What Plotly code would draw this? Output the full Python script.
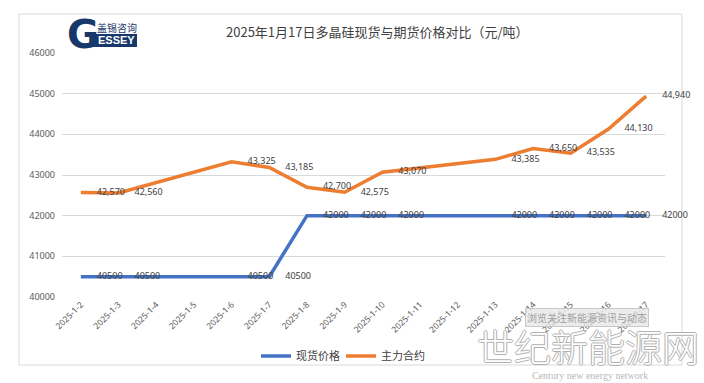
import plotly.graph_objects as go

# ---------------- data ----------------
dates = ["2025-1-2", "2025-1-3", "2025-1-4", "2025-1-5", "2025-1-6", "2025-1-7",
         "2025-1-8", "2025-1-9", "2025-1-10", "2025-1-11", "2025-1-12", "2025-1-13",
         "2025-1-14", "2025-1-15", "2025-1-16", "2025-1-17"]
spot_price = [40500, 40500, None, None, 40500, 40500,
              42000, 42000, 42000, None, None, 42000,
              42000, 42000, 42000, 42000]
futures_price = [42570, 42560, None, None, 43325, 43185,
                 42700, 42575, 43070, None, None, 43385,
                 43650, 43535, 44130, 44940]
y_ticks = [40000, 41000, 42000, 43000, 44000, 45000, 46000]

title_text = "2025年1月17日多晶硅现货与期货价格对比（元/吨）"
series_names = ["现货价格", "主力合约"]

# ---------------- layout helpers ----------------
W, H = 704, 383
L, R, T, B = 62, 665, 53, 297


def px(x):
    return (x - L) / (R - L)


def py(y):
    return (B - y) / (B - T)


FONT = "Noto Sans, Noto Sans CJK SC, sans-serif"
CJK = "Noto Sans CJK SC, sans-serif"
BLUE = "#4472C4"
ORANGE = "#ED7D31"
NAVY = "#17386A"

fig = go.Figure()
fig.add_trace(go.Scatter(
    x=dates, y=spot_price, name=series_names[0],
    mode="lines+markers+text", connectgaps=True, cliponaxis=False,
    line=dict(color=BLUE, width=3.5),
    marker=dict(size=24, color="rgba(0,0,0,0)"),
    texttemplate="%{y:d}", textposition="middle right",
    textfont=dict(size=9, color="#404040", family=FONT),
    hoverinfo="skip",
))
fig.add_trace(go.Scatter(
    x=dates, y=futures_price, name=series_names[1],
    mode="lines+markers+text", connectgaps=True, cliponaxis=False,
    line=dict(color=ORANGE, width=3.5),
    marker=dict(size=24, color="rgba(0,0,0,0)"),
    texttemplate="%{y:,d}", textposition="middle right",
    textfont=dict(size=9, color="#404040", family=FONT),
    hoverinfo="skip",
))

shapes = [
    # chart border
    dict(type="rect", xref="paper", yref="paper",
         x0=px(19), x1=px(682), y0=py(365), y1=py(14),
         line=dict(color="#D9D9D9", width=1), fillcolor="rgba(0,0,0,0)", layer="below"),
    # logo ESSEY box
    dict(type="rect", xref="paper", yref="paper",
         x0=px(93), x1=px(137), y0=py(47), y1=py(34),
         line=dict(width=0), fillcolor=NAVY),
]

annotations = [
    dict(text=title_text, xref="paper", yref="paper", x=px(378), y=py(31),
         showarrow=False, xanchor="center", yanchor="middle",
         font=dict(size=13, color="#404040", family=CJK)),
    # logo
    dict(text="<b>G</b>", xref="paper", yref="paper", x=px(83), y=py(34),
         showarrow=False, xanchor="center", yanchor="middle",
         font=dict(size=39, color=NAVY, family="DejaVu Sans")),
    dict(text="<b>ESSEY</b>", xref="paper", yref="paper", x=px(116), y=py(40.5),
         showarrow=False, xanchor="center", yanchor="middle",
         font=dict(size=11, color="white", family="Liberation Sans")),
    dict(text="盖锡咨询", xref="paper", yref="paper", x=px(117), y=py(27),
         showarrow=False, xanchor="center", yanchor="middle",
         font=dict(size=10, color=NAVY, family=CJK)),
    # watermark
    dict(text="浏览关注新能源资讯与动态", xref="paper", yref="paper", x=px(587), y=py(317),
         showarrow=False, xanchor="center", yanchor="middle",
         bgcolor="rgba(230,230,230,0.75)", bordercolor="#C8C8C8", borderwidth=1, borderpad=1,
         font=dict(size=10, color="#A0A0A0", family=CJK)),
    dict(text="世纪新能源网", xref="paper", yref="paper", x=px(588), y=py(346),
         showarrow=False, xanchor="center", yanchor="middle",
         font=dict(size=37, color="white", family=CJK, weight=300,
                   shadow="1px 0 0 #B0B0B0, -1px 0 0 #B0B0B0, 0 1px 0 #B0B0B0, 0 -1px 0 #B0B0B0")),
    dict(text="Century new energy network", xref="paper", yref="paper", x=px(590), y=py(375),
         showarrow=False, xanchor="center", yanchor="middle",
         font=dict(size=10, color="#B8B8B8", family="Liberation Serif, DejaVu Serif, serif")),
]

fig.update_layout(
    width=W, height=H,
    margin=dict(l=L, r=W - R, t=T, b=H - B, autoexpand=False),
    paper_bgcolor="white", plot_bgcolor="white",
    font=dict(family=FONT, color="#595959"),
    showlegend=True,
    legend=dict(orientation="h", x=px(341), y=py(356), xanchor="center", yanchor="middle",
                font=dict(size=11, color="#404040", family=CJK),
                itemwidth=30, entrywidth=40, tracegroupgap=0, bgcolor="rgba(0,0,0,0)"),
    xaxis=dict(type="category", categoryorder="array", categoryarray=dates,
               range=[-0.5, len(dates) - 0.5], showgrid=False, zeroline=False,
               showline=False, ticks="", tickangle=-45,
               tickfont=dict(size=8.5, color="#595959", family=FONT)),
    yaxis=dict(range=[40000, 46000], tickvals=y_ticks, showgrid=True,
               gridcolor="#D9D9D9", gridwidth=1, zeroline=False, showline=False,
               ticks="", tickformat="d", ticklabelstandoff=6,
               tickfont=dict(size=9, color="#595959", family=FONT)),
    shapes=shapes,
    annotations=annotations,
)

fig.write_html("out.html", config={"displayModeBar": False},
               post_script="document.body.style.margin='0px';document.body.style.overflow='hidden';")
